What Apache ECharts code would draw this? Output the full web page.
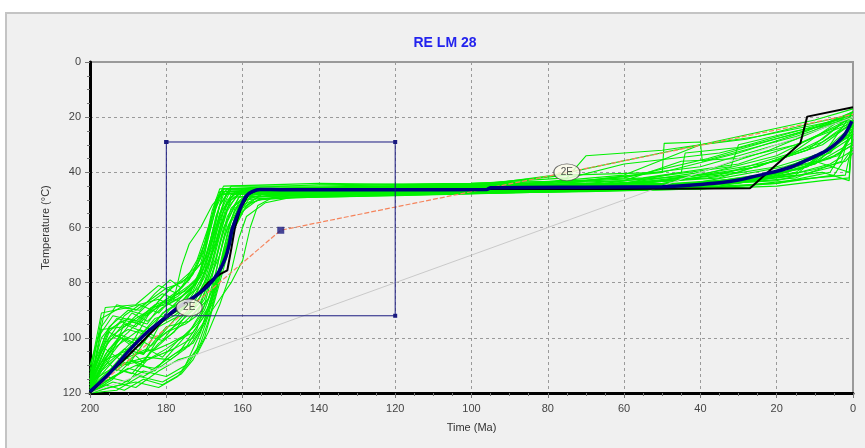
<!DOCTYPE html>
<html>
<head>
<meta charset="utf-8">
<script src="https://cdn.jsdelivr.net/npm/echarts@6/dist/echarts.min.js"></script>
<style>
html,body{margin:0;padding:0;background:#fff;}
#frame{position:absolute;left:5px;top:12px;width:860px;height:436px;background:#f0f0f0;border-left:2px solid #c4c4c4;border-top:2px solid #c4c4c4;box-sizing:border-box;}
#chart{position:absolute;left:0;top:0;width:865px;height:448px;}
</style>
</head>
<body>
<div id="frame"></div>
<div id="chart"></div>
<script>
// ---- data ----
const titleText = "RE LM 28";
const xName = "Time (Ma)";
const yName = "Temperature (°C)";
const xTicks = [200,180,160,140,120,100,80,60,40,20,0];
const yTicks = [0,20,40,60,80,100,120];

// constraint box (Ma, °C)
const boxCorners = [[180,29],[120,29],[120,92],[180,92],[180,29]];
const boxPoint = [[150,61]];
// orange model line and grey reference line
const orangeLine = [[200,120],[150,61],[0,19]];
const greyLine = [[200,120],[0,20]];
// label markers
const labelPoints = [[174,89],[75,40]];
const labelTexts = ["2E","2E"];

// best-fit path (black)
const bestPath = [[200,120],[195,113],[190,106.5],[185,99.5],[181,94],[177,89.5],[173,86],[169,80],[166,77],[164,75.5],[163,68],[162,60],[160.5,53],[158.5,48],[156,46.3],[150,46],[100,46],[60,46],[27,45.8],[13.8,29.5],[12,19.8],[0,16.4]];
// weighted mean path (navy)
const meanPath = [[200,119.5],[195,113],[190,105],[185,98],[180,92.4],[176,88],[172.5,85],[169,81],[166.4,76.5],[164.5,71],[163.5,66],[162.8,61],[161.5,56],[160,51],[159,48.5],[157.5,47],[155.4,46.2],[150,46.3],[120,46.3],[96,46.2],[95,45.6],[70,45.4],[50,45.2],[42,44.6],[35,43.8],[30,42.8],[24.4,41],[20,39.6],[15.7,37.8],[12,35.5],[9,33.6],[6.8,32],[4,29],[2,26],[0.3,21.5]];

// good paths (green)
const g1 = [[200,118],[196,104],[190,110],[183,96],[178,88],[172,80],[168,64],[164,47],[140,46],[90,45.5],[55,44],[25,38],[8,30],[0,22]];
const g2 = [[200,112],[197,91],[190,89],[182,86],[176,90],[171,76],[167,58],[165,46],[130,46],[70,45],[35,42],[12,32],[0,19]];
const g3 = [[200,120],[192,117],[186,112],[180,114],[175,110],[171,98],[168,84],[165,70],[161,52],[157,47],[120,47],[60,46],[20,43],[5,38],[0,24]];
const g4 = [[200,116],[195,98],[189,102],[184,90],[179,82],[174,78],[169,70],[166,52],[163,45],[140,45],[100,44],[70,43],[40,38],[15,28],[0,18]];
const g5 = [[200,119],[197,110],[192,100],[186,106],[180,96],[174,94],[170,86],[167,72],[164,56],[160,47],[110,47],[75,46],[45,45],[20,40],[4,34],[0,26]];
const g6 = [[200,117],[196,89],[188,88],[182,81],[177,84],[172,72],[169,60],[166,48],[150,46],[110,46],[75,41],[50,40],[49.5,29.5],[40,29],[39.5,36],[15,27],[0,20]];
const g7 = [[200,114],[194,104],[187,97],[182,100],[177,92],[173,84],[169,74],[166,60],[163,50],[159,46],[100,46],[60,45],[30,43],[10,36],[1,40],[0,21]];
const g8 = [[200,120],[193,119],[187,114],[181,116],[176,112],[172,104],[169,92],[166,76],[163,62],[160,53],[155,48],[130,48],[90,46],[50,45],[25,42],[10,35],[0,25]];
const g9 = [[200,118],[195,108],[191,95],[186,98],[180,90],[175,86],[171,81],[168,68],[166,55],[164,47],[120,46],[80,44],[60,37],[35,33],[15,26],[0,19]];
const g10 = [[200,115],[197,100],[193,93],[187,95],[181,85],[176,79],[172,74],[169,62],[167,50],[165,46],[110,46],[70,45],[42,44],[18,38],[6,33],[0,23]];
const g11 = [[200,119],[196,114],[190,116],[185,108],[180,104],[176,100],[173,96],[170,90],[167,79],[164,66],[161,55],[158,49],[140,48],[100,47],[60,46],[30,45],[10,42],[2,41],[0,28]];
const g12 = [[200,113],[195,96],[190,90],[185,92],[180,86],[175,83],[170,76],[167,66],[165,54],[162,47],[130,47],[95,46],[65,45],[40,41],[20,34],[0,20]];
const g13 = [[200,120],[194,115],[189,108],[183,112],[178,104],[174,98],[171,91],[168,83],[166,70],[164,58],[161,49],[150,47],[100,46],[62,46],[40,44],[14,39],[5,34],[0,30]];
const g14 = [[200,117],[196,106],[192,99],[188,101],[183,93],[178,91],[174,88],[170,78],[168,69],[166,57],[163,48],[140,47],[95,45],[60,44],[45,40],[44,33],[30,31],[12,24],[0,19]];
const g15 = [[200,116],[193,110],[185,107],[179,108],[175,104],[172,97],[170,88],[168,78],[166,66],[163,53],[159,48],[150,47],[120,47],[80,46],[50,45],[28,43],[14,40],[6,37],[0,32]];
const g16 = [[200,119],[197,97],[191,96],[185,88],[181,84],[176,87],[172,80],[170,70],[168,56],[166,47],[120,45],[85,44],[60,42],[38,35],[18,27],[0,20]];
const g17 = [[200,118],[195,112],[190,104],[186,109],[182,100],[177,95],[173,90],[170,82],[167,71],[165,60],[162,52],[158,48],[140,47],[100,47],[60,46],[35,44],[20,42],[8,40],[1,43],[0,22]];
const g18 = [[200,114],[198,100],[194,92],[188,94],[183,88],[179,86],[175,80],[171,73],[168,58],[166,48],[150,46],[110,45],[70,44],[30,40],[10,31],[0,21]];
const g19 = [[200,120],[195,118],[188,116],[182,118],[177,114],[174,109],[171,102],[169,94],[167,84],[165,72],[163,62],[160,54],[156,50],[145,49],[125,48],[90,47],[55,46],[30,44],[12,38],[0,27]];
const g20 = [[200,117],[194,103],[189,94],[184,97],[180,92],[176,88],[172,85],[169,77],[167,67],[164,54],[161,47],[120,46],[80,45],[50,43],[33,39],[20,36],[8,28],[0,19]];
const g21 = [[200,118],[196,108],[193,112],[188,106],[183,104],[179,99],[175,94],[172,90],[169,86],[167,76],[165,64],[162,54],[159,48],[130,47],[90,46],[58,45],[25,42],[10,37],[0,29]];
const g22 = [[200,115],[197,93],[192,89],[187,90],[183,84],[179,79],[176,82],[173,77],[170,68],[168,56],[166,49],[164,46],[110,45],[75,42],[70,34],[50,32],[25,27],[0,20]];
const g23 = [[200,119],[196,116],[191,112],[186,114],[181,110],[177,106],[174,100],[171,94],[168,88],[166,78],[164,66],[162,56],[159,50],[155,48],[120,47],[70,46],[40,45],[15,42],[3,36],[0,21]];
const g24 = [[200,116],[195,101],[190,97],[185,99],[181,91],[177,88],[173,83],[170,74],[168,62],[166,52],[163,46],[130,46],[90,45],[55,44],[35,41],[16,33],[0,18]];
const g25 = [[200,120],[197,112],[192,106],[187,110],[182,102],[178,98],[175,92],[171,85],[168,73],[166,61],[164,51],[160,47],[110,46],[65,44],[32,38],[30,30],[15,25],[0,21]];
const g26 = [[200,118],[193,107],[188,100],[184,103],[180,98],[175,95],[172,92],[170,84],[168,74],[166,63],[164,53],[161,48],[140,47],[100,46],[60,45],[32,44],[18,40],[6,35],[0,30]];
const g27 = [[200,116],[195,104],[190,98],[186,92],[181,88],[178,86],[176,74],[174,66],[171,60],[168,52],[165,47],[120,46],[80,45],[50,44],[25,38],[8,29],[0,22]];
const g28 = [[200,117],[196,110],[191,104],[186,106],[182,96],[178,93],[174,91],[171,87],[169,80],[166,70],[164,60],[161,51],[158,47],[130,47],[85,46],[55,45],[28,43],[12,38],[0,24]];
const g29 = [[200,119],[195,113],[190,107],[185,104],[181,107],[177,101],[173,98],[170,92],[168,85],[166,74],[163,60],[160,52],[156,49],[148,48],[115,47],[75,46],[45,45],[22,41],[7,32],[0,18]];
const g30 = [[200,115],[196,102],[191,92],[187,88],[182,91],[178,85],[174,81],[171,77],[169,70],[167,61],[165,52],[163,46],[120,45],[85,44],[60,41],[40,30],[28,28],[10,22],[0,19]];
const g31 = [[200,118],[192,110],[185,108],[178,104],[173,100],[169,92],[166,86],[163,80],[160,72],[158,60],[156,52],[152,49],[140,48],[100,47],[50,46],[20,44],[6,40],[0,26]];
const g32 = [[200,120],[194,116],[188,118],[182,112],[177,108],[172,106],[169,98],[166,88],[163,76],[161,64],[159,56],[154,51],[147,49],[130,48],[90,47],[45,46],[15,41],[0,23]];
const g33 = [[200,117],[195,100],[188,93],[182,88],[177,85],[172,79],[169,68],[167,56],[165,48],[140,46],[100,45],[78,41],[40,30],[10,21],[0,17]];
const g34 = [[200,110],[197,96],[193,88],[188,90],[184,86],[180,82],[176,80],[173,76],[170,66],[168,54],[166,46],[140,44.5],[100,44],[70,43],[50,40],[30,33],[12,25],[0,18]];
const g35 = [[200,120],[196,117],[191,119],[186,115],[181,117],[176,113],[173,108],[170,100],[168,90],[166,80],[164,70],[162,60],[159,52],[155,49.5],[140,49],[120,48.5],[90,47.5],[60,46.5],[35,45],[15,40],[0,26]];
const g36 = [[200,117],[195,107],[191,100],[187,103],[182,95],[178,92],[175,89],[172,84],[170,76],[168,65],[166,55],[163,49],[150,48.5],[110,48],[80,47],[50,46],[25,43],[10,37],[0,25]];
const g37 = [[200,119],[194,111],[189,113],[184,105],[179,102],[175,99],[172,95],[169,89],[167,80],[165,68],[163,58],[160,50],[150,49],[130,48.5],[100,47.5],[70,47],[40,46],[20,44],[5,41],[0,31]];
const g38 = [[200,116],[196,99],[192,94],[188,96],[184,89],[180,88],[176,85],[173,81],[171,75],[169,64],[167,53],[165,47],[130,45],[90,44.5],[60,43],[45,36],[30,35],[15,30],[0,21]];
const g39 = [[200,113],[197,105],[193,98],[189,91],[185,94],[181,89],[177,86],[174,83],[171,78],[168,67],[166,58],[164,50],[161,47],[120,46],[90,45],[60,44],[38,42],[20,38],[8,33],[0,26]];
const g40 = [[200,118],[195,115],[190,111],[185,113],[180,108],[176,104],[173,102],[170,95],[168,86],[166,75],[164,62],[162,53],[158,49],[150,48],[120,47.5],[80,46.5],[52,45.5],[25,43],[10,39],[2,36],[0,33]];
const g41 = [[200,119],[196,108],[191,105],[186,99],[181,101],[177,94],[173,88],[170,80],[168,70],[165,57],[163,49],[160,46],[120,45.5],[80,45],[60,44],[40,40],[22,32],[8,24],[0,20]];
const g42 = [[200,115],[195,97],[190,93],[185,95],[181,87],[177,83],[174,79],[171,71],[169,61],[167,51],[165,45],[140,44],[110,44.5],[80,44],[55,42],[30,37],[15,30],[0,22]];
const g43 = [[200,120],[194,114],[188,110],[183,111],[178,106],[174,103],[171,97],[169,90],[167,82],[165,73],[163,64],[161,56],[158,51],[154,49.5],[140,49],[110,48],[75,47],[40,46],[20,45],[8,43],[1,42],[0,23]];
const greenPaths = [g1,g2,g3,g4,g5,g6,g7,g8,g9,g10,g11,g12,g13,g14,g15,g16,g17,g18,g19,g20,g21,g22,g23,g24,g25,g26,g27,g28,g29,g30,g31,g32,g33,g34,g35,g36,g37,g38,g39,g40,g41,g42,g43];

// ---- chart ----
const chart = echarts.init(document.getElementById('chart'), null, {renderer:'canvas'});
const font = "'Liberation Sans', Arial, sans-serif";
const ellipsePath = 'path://M0,1 C0,0.45 0.45,0 1,0 C1.55,0 2,0.45 2,1 C2,1.55 1.55,2 1,2 C0.45,2 0,1.55 0,1 Z';

const series = [];
greenPaths.forEach(p => series.push({
  type:'line', data:p, symbol:'none', silent:true, z:1,
  lineStyle:{color:'#00f000', width:1.1}
}));
series.push({type:'line', data:greyLine, symbol:'none', silent:true, z:2, lineStyle:{color:'#c9c9c9', width:1}});
series.push({type:'line', data:orangeLine, symbol:'none', silent:true, z:3, lineStyle:{color:'#f5845c', width:1.2, type:[5,2]}});
series.push({type:'line', data:bestPath, symbol:'none', silent:true, z:4, lineStyle:{color:'#000000', width:2}});
series.push({type:'line', data:meanPath, symbol:'none', silent:true, z:5, smooth:0.2, lineStyle:{color:'#000080', width:3.5}});
series.push({type:'line', data:boxCorners, symbol:'rect', symbolSize:4, silent:true, z:6,
  itemStyle:{color:'#1a1a80'}, lineStyle:{color:'#1a1a80', width:1}});
series.push({type:'scatter', data:boxPoint, symbol:'rect', symbolSize:7, silent:true, z:6, itemStyle:{color:'#1a1a80'}});
series.push({type:'scatter', data:labelPoints.map((p,i)=>({value:p, name:labelTexts[i]})), symbol:ellipsePath, symbolSize:[26,17], silent:true, z:7,
  itemStyle:{color:'#fcfbe8', borderColor:'#444', borderWidth:1},
  label:{show:true, position:'inside', formatter:p=>p.name, fontSize:10, color:'#222', fontFamily:font}});

const option = {
  animation:false,
  backgroundColor:'transparent',
  graphic:[{type:'text', x:445, y:43, style:{text:titleText, fill:'#2323ee', font:"bold 14px 'Liberation Sans Narrow', 'Liberation Sans', Arial", textAlign:'center', textVerticalAlign:'middle'}}],
  grid:{left:90, right:12, top:62, bottom:55, show:true, backgroundColor:'#f0f0f0', borderColor:'#9a9a9a', borderWidth:2},
  xAxis:{type:'value', min:0, max:200, interval:20, inverse:true, position:'bottom',
    name:xName, nameLocation:'middle', nameGap:29, nameTextStyle:{fontSize:11, color:'#333', fontFamily:font},
    axisLine:{show:true, onZero:false, lineStyle:{color:'#000', width:3}},
    axisTick:{show:true, length:5, lineStyle:{color:'#777'}},
    minorTick:{show:true, splitNumber:4, length:3, lineStyle:{color:'#777'}},
    axisLabel:{fontSize:11, color:'#444', fontFamily:font, margin:10, formatter:v=>String(v)},
    splitLine:{show:true, lineStyle:{color:'#9a9a9a', type:[3,3], width:1}}
  },
  yAxis:{type:'value', min:0, max:120, interval:20, inverse:true, position:'left',
    name:yName, nameLocation:'middle', nameGap:37, nameTextStyle:{fontSize:11, color:'#333', fontFamily:font},
    axisLine:{show:true, onZero:false, lineStyle:{color:'#000', width:3}},
    axisTick:{show:true, length:5, lineStyle:{color:'#777'}},
    minorTick:{show:true, splitNumber:4, length:3, lineStyle:{color:'#777'}},
    axisLabel:{fontSize:11, color:'#444', fontFamily:font, margin:9, formatter:v=>String(v)},
    splitLine:{show:true, lineStyle:{color:'#9a9a9a', type:[3,3], width:1}}
  },
  series:series
};
chart.setOption(option);
</script>
</body>
</html>
